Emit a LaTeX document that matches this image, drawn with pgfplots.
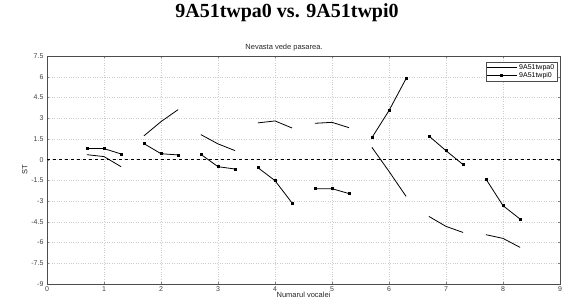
\documentclass[border=0pt]{standalone}
\usepackage{pgfplots}
\pgfplotsset{compat=1.18}
\usepackage{fontspec}
\setmainfont{Liberation Sans}
\newfontfamily\titlefont{Liberation Serif}
\begin{document}
\begin{tikzpicture}[x=1pt,y=1pt]
\path[use as bounding box] (0,0) rectangle (564,301);
\node[font=\titlefont\bfseries\fontsize{20}{22}\selectfont] at (287,288) {9A51twpa0 vs. 9A51twpi0};
\node[font=\fontsize{7.5}{8}\selectfont, text=black!85] at (284,253) {Nevasta vede pasarea.};
\begin{axis}[
  at={(47pt,17pt)}, anchor=south west,
  scale only axis, width=513pt, height=228pt,
  xmin=0, xmax=9, ymin=-9, ymax=7.5,
  xtick={0,1,...,9},
  ytick={-9,-7.5,-6,-4.5,-3,-1.5,0,1.5,3,4.5,6,7.5},
  yticklabels={-9,-7.5,-6,-4.5,-3,-1.5,0,1.5,3,4.5,6,7.5},
  /pgf/number format/assume math mode=true,
  tick label style={font=\fontsize{7}{8}\selectfont, text=black!75},
  xticklabel style={yshift=1pt},
  tick align=inside, major tick length=2pt,
  grid=major, grid style={dotted, black!20},
  axis line style={black!70},
  xlabel={Numarul vocalei}, ylabel={ST},
  label style={font=\fontsize{7.5}{8}\selectfont, text=black!85},
  xlabel style={at={(0.5,0)}, anchor=south, yshift=-17pt},
  ylabel style={yshift=-3pt},
  legend style={at={(0.994,0.974)}, anchor=north east, font=\fontsize{7}{7.5}\selectfont, draw=black!70, inner sep=0.5pt, row sep=-2.5pt, legend cell align=left},
  legend image code/.code={\draw[#1] (0pt,0pt) -- (30pt,0pt); \draw[#1,only marks] plot coordinates {(15pt,0pt)};},
  every axis plot/.append style={line width=0.8pt, black},
  clip=false,
]
\addplot[no marks, forget plot, dashed, line width=0.7pt] coordinates {(0,0) (9,0)};
% twpa0
\addplot[no marks] coordinates {(0.7,0.36) (1.0,0.22) (1.3,-0.51)};
\addlegendentry{9A51twpa0}
\addplot[mark=square*, mark size=1.0pt] coordinates {(0.7,0.80) (1.0,0.80) (1.3,0.41)};
\addlegendentry{9A51twpi0}
\addplot[no marks, forget plot] coordinates {(1.7,1.72) (2.0,2.75) (2.3,3.62)};
\addplot[no marks, forget plot] coordinates {(2.7,1.81) (3.0,1.14) (3.3,0.65)};
\addplot[no marks, forget plot] coordinates {(3.7,2.66) (4.0,2.80) (4.3,2.29)};
\addplot[no marks, forget plot] coordinates {(4.7,2.63) (5.0,2.70) (5.3,2.31)};
\addplot[no marks, forget plot] coordinates {(5.7,0.89) (6.0,-0.85) (6.3,-2.66)};
\addplot[no marks, forget plot] coordinates {(6.7,-4.11) (7.0,-4.83) (7.3,-5.27)};
\addplot[no marks, forget plot] coordinates {(7.7,-5.43) (8.0,-5.70) (8.3,-6.35)};
% twpi0
\addplot[mark=square*, mark size=1.0pt, forget plot] coordinates {(1.7,1.16) (2.0,0.43) (2.3,0.34)};
\addplot[mark=square*, mark size=1.0pt, forget plot] coordinates {(2.7,0.38) (3.0,-0.51) (3.3,-0.68)};
\addplot[mark=square*, mark size=1.0pt, forget plot] coordinates {(3.7,-0.58) (4.0,-1.52) (4.3,-3.14)};
\addplot[mark=square*, mark size=1.0pt, forget plot] coordinates {(4.7,-2.10) (5.0,-2.10) (5.3,-2.46)};
\addplot[mark=square*, mark size=1.0pt, forget plot] coordinates {(5.7,1.59) (6.0,3.55) (6.3,5.87)};
\addplot[mark=square*, mark size=1.0pt, forget plot] coordinates {(6.7,1.71) (7.0,0.65) (7.3,-0.36)};
\addplot[mark=square*, mark size=1.0pt, forget plot] coordinates {(7.7,-1.40) (8.0,-3.33) (8.3,-4.30)};
\end{axis}
\end{tikzpicture}
\end{document}
